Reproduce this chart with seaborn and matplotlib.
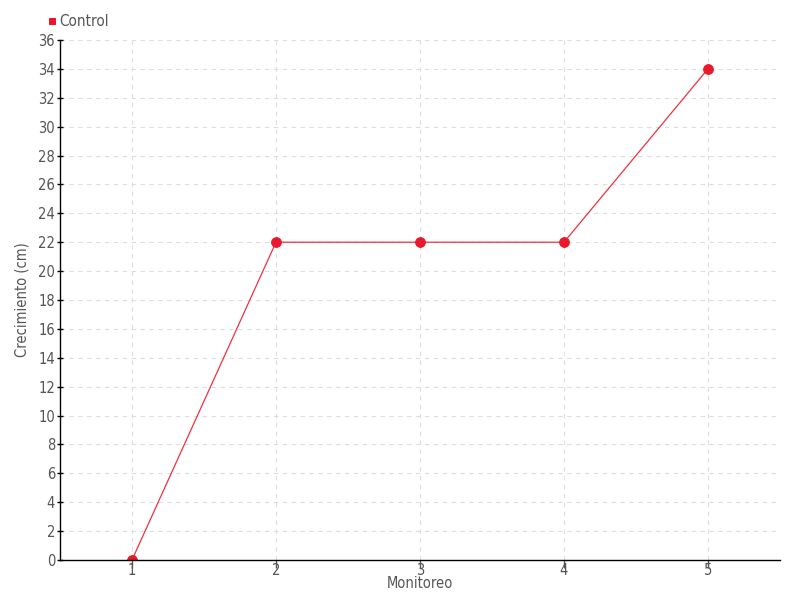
import matplotlib
matplotlib.use('Agg')
import matplotlib.pyplot as plt
import seaborn as sns
import pandas as pd

# Data
monitoreo = [1, 2, 3, 4, 5]
control = [0, 22, 22, 22, 34]

df = pd.DataFrame({'Monitoreo': monitoreo, 'Control': control})

sns.set_style('white')
plt.rcParams['font.family'] = ['DejaVu Sans']
plt.rcParams['font.stretch'] = 'condensed'

fig = plt.figure(figsize=(8, 6), dpi=100)
ax = fig.add_axes([0.075, 0.0667, 0.9, 0.8667])

sns.lineplot(data=df, x='Monitoreo', y='Control', ax=ax, color='#f03040',
             linewidth=0.9, marker='o', markersize=7, markerfacecolor='#e8192c',
             markeredgecolor='#e8192c', label='Control')

ax.set_xlim(0.5, 5.5)
ax.set_ylim(0, 36)
ax.set_xticks(monitoreo)
ax.set_yticks(range(0, 37, 2))
ax.grid(True, color='#dddddd', linestyle=(0, (4, 4)), linewidth=0.8)

for s in ['top', 'right']:
    ax.spines[s].set_visible(False)
for s in ['left', 'bottom']:
    ax.spines[s].set_color('black')
    ax.spines[s].set_linewidth(1)

ax.tick_params(axis='y', left=True, direction='inout', length=5, width=1, colors='black',
               labelcolor='#555555', labelsize=10.5, pad=1)
ax.tick_params(axis='x', bottom=True, direction='out', length=6, width=1, colors='#555555',
               labelcolor='#555555', labelsize=10.5, pad=-4)

ax.set_xlabel('Monitoreo', color='#555555', fontsize=10.5, labelpad=-1)
ax.set_ylabel('Crecimiento (cm)', color='#555555', fontsize=10.5, labelpad=6)

leg = ax.legend(loc='lower left', bbox_to_anchor=(-0.033, 1.0), frameon=False,
                fontsize=11, handlelength=0.6, handletextpad=0.2, borderaxespad=0.3,
                labelcolor='#555555')
for h in leg.legend_handles:
    h.set_linestyle('')
    h.set_marker('s')
    h.set_markersize(5)

fig.savefig('out.png')
